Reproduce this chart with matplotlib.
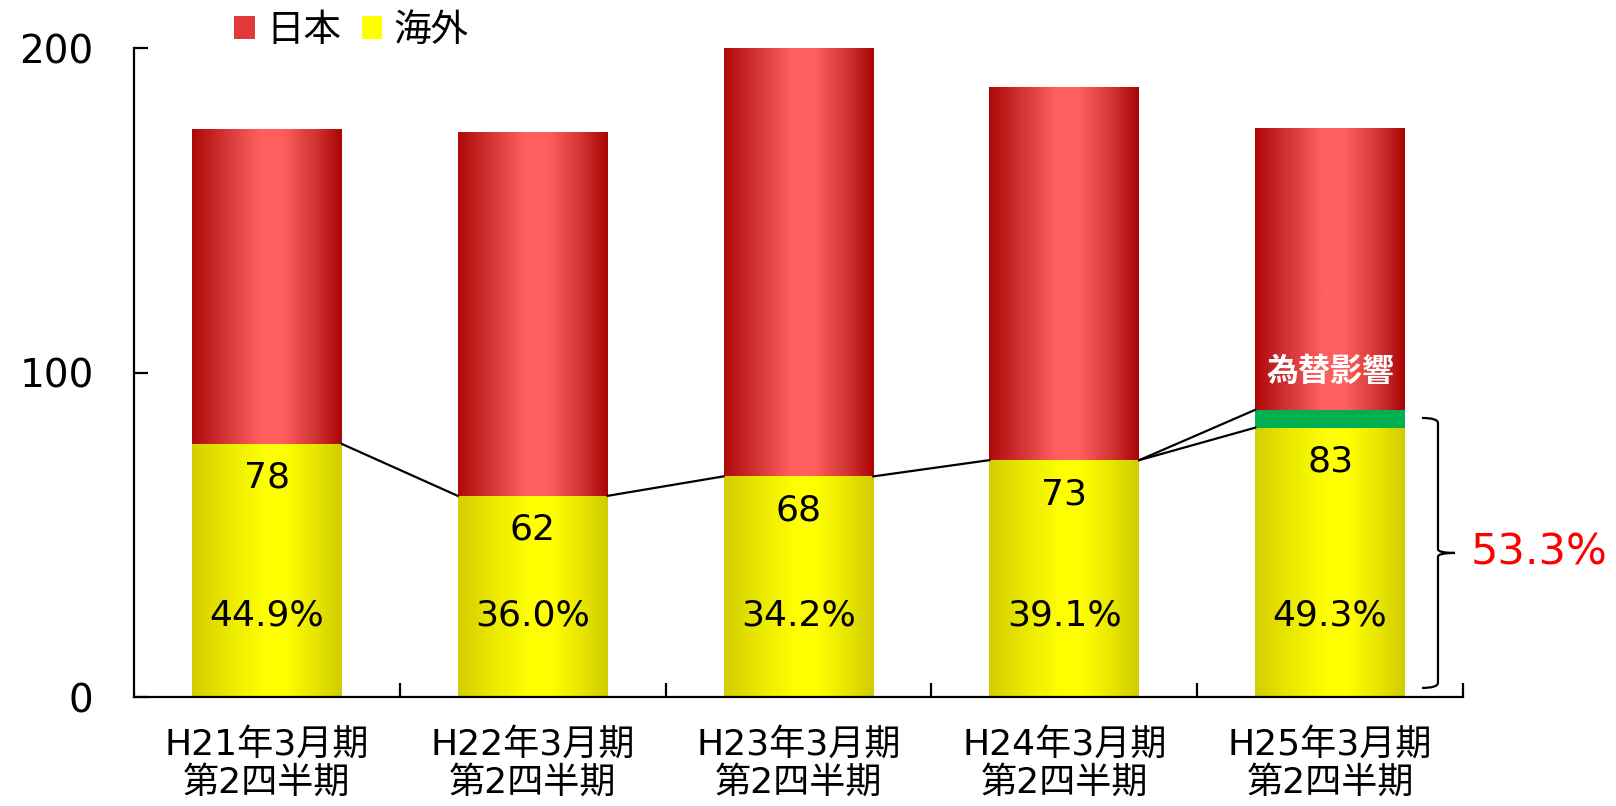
import matplotlib.pyplot as plt
import numpy as np
from matplotlib.colors import LinearSegmentedColormap
from matplotlib.patches import Patch, PathPatch
from matplotlib.path import Path

# Latin glyphs from DejaVu, Japanese glyphs fall back to Noto CJK
plt.rcParams['font.family'] = ['DejaVu Sans', 'Noto Sans CJK JP']

categories = [
    "H21年3月期\n第2四半期",
    "H22年3月期\n第2四半期",
    "H23年3月期\n第2四半期",
    "H24年3月期\n第2四半期",
    "H25年3月期\n第2四半期",
]
overseas = [78, 62, 68, 73, 83]
fx_effect = [0, 0, 0, 0, 5.5]
japan = [97, 112, 132, 115, 87]
overseas_pct = ["44.9%", "36.0%", "34.2%", "39.1%", "49.3%"]
fx_label = "為替影響"
total_pct = "53.3%"

red_cmap = LinearSegmentedColormap.from_list(
    "red_bar",
    [(0, "#b00808"), (0.22, "#d23535"), (0.45, "#ff5f5f"),
     (0.6, "#ff5f5f"), (0.82, "#d23535"), (1, "#aa0404")])
yellow_cmap = LinearSegmentedColormap.from_list(
    "yellow_bar",
    [(0, "#d4ce00"), (0.25, "#ecea00"), (0.48, "#ffff00"),
     (0.62, "#ffff00"), (0.85, "#e6e200"), (1, "#d0cc00")])


def gradient_fill(ax, patches, cmap):
    # paint a horizontal gradient inside each bar
    grad = np.linspace(0, 1, 256).reshape(1, -1)
    for p in patches:
        x0, y0, w, h = p.get_x(), p.get_y(), p.get_width(), p.get_height()
        if h <= 0:
            continue
        im = ax.imshow(grad, extent=[x0, x0 + w, y0, y0 + h], aspect="auto",
                       cmap=cmap, interpolation="bicubic", zorder=2)
        im.set_clip_path(p)
        p.set_facecolor("none")


fig = plt.figure(figsize=(16.16, 8.06), dpi=100)
ax = fig.add_axes([0.0829, 0.1352, 0.8224, 0.8052])

x = np.arange(len(categories))
width = 0.564
ovs = np.array(overseas)
fx = np.array(fx_effect)
jp = np.array(japan)

bars_ovs = ax.bar(x, ovs, width, color="#ffff00", linewidth=0, zorder=2)
bars_fx = ax.bar(x, fx, width, bottom=ovs, color="#00b050", linewidth=0, zorder=2)
bars_jp = ax.bar(x, jp, width, bottom=ovs + fx, color="#e03030", linewidth=0, zorder=2)
gradient_fill(ax, bars_ovs, yellow_cmap)
gradient_fill(ax, bars_jp, red_cmap)

# connector lines between tops of overseas segments
for i in range(len(x) - 1):
    x_start = x[i] + width / 2
    x_end = x[i + 1] - width / 2
    y_start = ovs[i] + fx[i]
    ax.plot([x_start, x_end], [y_start, ovs[i + 1]], color="black", lw=1.6, zorder=3)
    if fx[i + 1] > 0:
        ax.plot([x_start, x_end], [y_start, ovs[i + 1] + fx[i + 1]],
                color="black", lw=1.6, zorder=3)

# value labels
for i in range(len(x)):
    ax.text(x[i], ovs[i] - 10.5, f"{overseas[i]}", ha="center", va="center",
            fontsize=26, zorder=4)
    ax.text(x[i], 25, overseas_pct[i], ha="center", va="center",
            fontsize=26, zorder=4)

ax.text(x[-1], 100, fx_label, ha="center", va="center", fontsize=23,
        fontweight="bold", color="white", zorder=4)

# curly bracket to the right of the last bar
bx0, bx1, btip = 4.346, 4.406, 4.47
top, mid, bot = 86.0, 44.4, 2.8
verts = [
    (bx0, top), (bx1, top), (bx1, top - 1.6),
    (bx1, mid + 1.2), (bx1, mid), (btip, mid),
    (bx1, mid), (bx1, mid - 1.2),
    (bx1, bot + 1.6), (bx1, bot), (bx0, bot),
]
codes = [
    Path.MOVETO, Path.CURVE3, Path.CURVE3,
    Path.LINETO, Path.CURVE3, Path.CURVE3,
    Path.CURVE3, Path.CURVE3,
    Path.LINETO, Path.CURVE3, Path.CURVE3,
]
ax.add_patch(PathPatch(Path(verts, codes), fill=False, lw=1.6,
                       edgecolor="black", zorder=3, clip_on=False))
ax.text(btip + 0.06, mid, total_pct, ha="left", va="center", fontsize=31,
        color="red", clip_on=False)

# axes styling
ax.set_xlim(-0.5, len(x) - 0.5)
ax.set_ylim(0, 200)
ax.set_yticks([0, 100, 200])
ax.tick_params(axis="y", direction="in", length=10, width=1.6, pad=29, labelsize=28)
ax.set_xticks(np.arange(len(x)) + 0.5)
ax.set_xticklabels([])
ax.tick_params(axis="x", which="major", direction="in", length=10, width=1.6)
ax.set_xticks(x, minor=True)
ax.set_xticklabels(categories, minor=True, fontsize=26, linespacing=1.15)
ax.tick_params(axis="x", which="minor", length=0, pad=22)
for s in ["top", "right"]:
    ax.spines[s].set_visible(False)
for s in ["left", "bottom"]:
    ax.spines[s].set_linewidth(1.6)

handles = [Patch(facecolor="#e23a3a", label="日本"),
           Patch(facecolor="#ffff00", label="海外")]
fig.legend(handles=handles, loc="center left", bbox_to_anchor=(0.145, 0.962),
           ncol=2, frameon=False, fontsize=27, handlelength=0.55, handleheight=0.55,
           handletextpad=0.3, columnspacing=0.55, borderpad=0, borderaxespad=0)

fig.savefig("out.png", dpi=100)
